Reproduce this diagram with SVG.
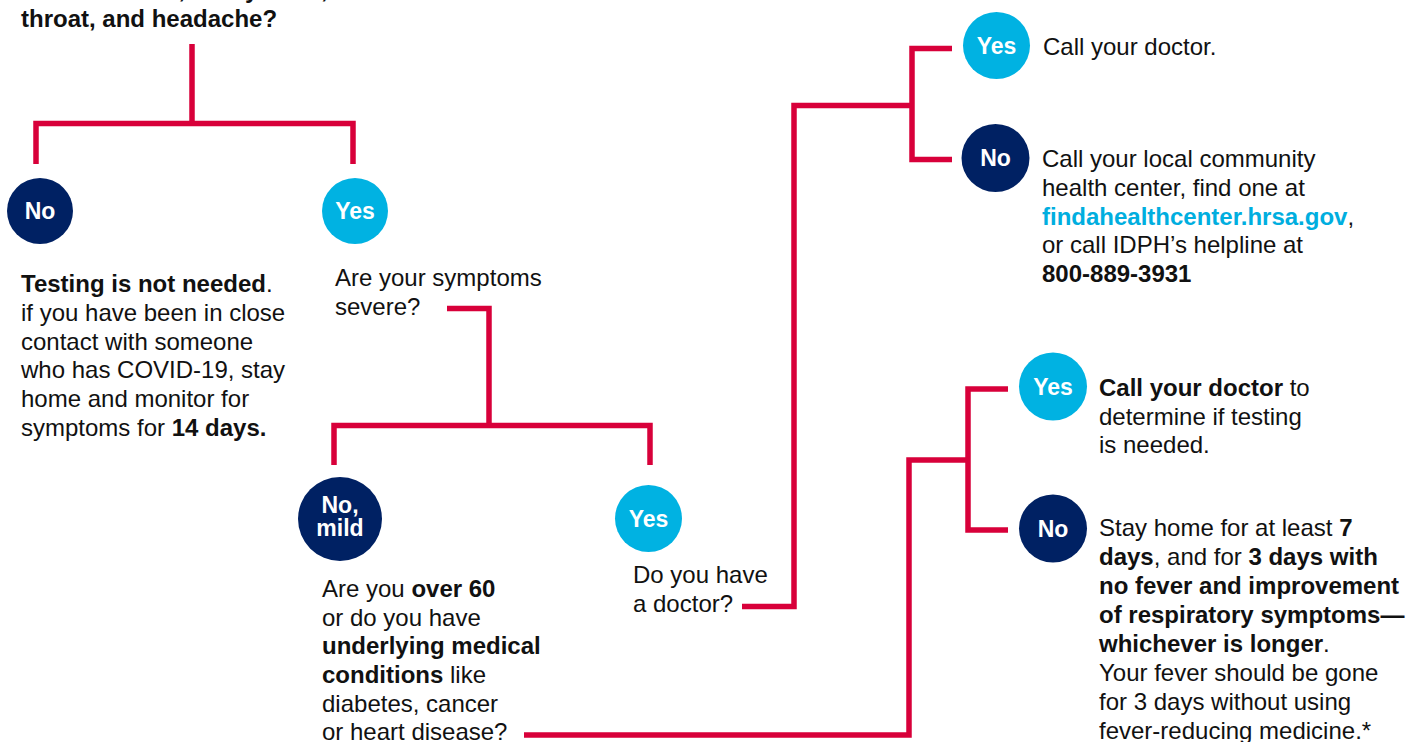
<svg xmlns="http://www.w3.org/2000/svg" width="1416" height="742" viewBox="0 0 1416 742">
<style>
text{font-family:"Liberation Sans",Arial,Helvetica,sans-serif;font-size:24px;fill:#111}
.b{font-weight:bold}
.lbl{font-size:23px;font-weight:bold;fill:#fff;text-anchor:middle}
.navy{fill:#002163}
.cyan{fill:#00B2E2}
.link{fill:#00AEDF;font-weight:bold}
.conn{fill:none;stroke:#D8003A;stroke-width:5.5;stroke-linejoin:miter;stroke-linecap:butt}
</style>
<rect width="1416" height="742" fill="#fff"/>
<g id="connectors">
<path class="conn" d="M36,164 V123.5 H353 V164 M192,44 V123.5"/>
<path class="conn" d="M447,308.5 H489 V425.5 M334,465 V425.5 H650 V465"/>
<path class="conn" d="M742,606.5 H794 V105.5 H912 M952,48.5 H912 V159.5 H952"/>
<path class="conn" d="M524,735 H909 V460 H968 M1008,389 H968 V530 H1008"/>
</g>
<g id="q-symptoms">
<text class="b" x="21" y="-2">muscle aches, runny nose, sore</text>
<text class="b" x="21" y="27">throat, and headache?</text>
</g>
<g id="no-1">
<circle class="navy" cx="40" cy="211" r="33"/>
<text class="lbl" x="40" y="219">No</text>
<text x="21" y="292"><tspan class="b">Testing is not needed</tspan>.</text>
<text x="21" y="321">if you have been in close</text>
<text x="21" y="350">contact with someone</text>
<text x="21" y="378">who has COVID-19, stay</text>
<text x="21" y="407">home and monitor for</text>
<text x="21" y="436">symptoms for <tspan class="b">14 days.</tspan></text>
</g>
<g id="yes-1">
<circle class="cyan" cx="355" cy="211" r="33"/>
<text class="lbl" x="355" y="219">Yes</text>
<text x="335" y="286">Are your symptoms</text>
<text x="335" y="315">severe?</text>
</g>
<g id="no-mild">
<circle class="navy" cx="340" cy="519" r="42"/>
<text class="lbl" x="340" y="513">No,</text>
<text class="lbl" x="340" y="536">mild</text>
<text x="322" y="597">Are you <tspan class="b">over 60</tspan></text>
<text x="322" y="626">or do you have</text>
<text x="322" y="654" class="b">underlying medical</text>
<text x="322" y="683"><tspan class="b">conditions</tspan> like</text>
<text x="322" y="712">diabetes, cancer</text>
<text x="322" y="740">or heart disease?</text>
</g>
<g id="yes-severe">
<circle class="cyan" cx="648.5" cy="518.5" r="33.5"/>
<text class="lbl" x="648.5" y="526.5">Yes</text>
<text x="633" y="583">Do you have</text>
<text x="633" y="612">a doctor?</text>
</g>
<g id="yes-doctor">
<circle class="cyan" cx="996.5" cy="45.5" r="33.5"/>
<text class="lbl" x="996.5" y="53.5">Yes</text>
<text x="1043" y="55">Call your doctor.</text>
</g>
<g id="no-doctor">
<circle class="navy" cx="995.5" cy="158" r="34"/>
<text class="lbl" x="995.5" y="166">No</text>
<text x="1042" y="167">Call your local community</text>
<text x="1042" y="196">health center, find one at</text>
<text x="1042" y="225"><tspan class="link">findahealthcenter.hrsa.gov</tspan>,</text>
<text x="1042" y="253">or call IDPH’s helpline at</text>
<text x="1042" y="282" class="b">800-889-3931</text>
</g>
<g id="yes-risk">
<circle class="cyan" cx="1053" cy="386.5" r="34"/>
<text class="lbl" x="1053" y="394.5">Yes</text>
<text x="1099" y="396"><tspan class="b">Call your doctor</tspan> to</text>
<text x="1099" y="425">determine if testing</text>
<text x="1099" y="453">is needed.</text>
</g>
<g id="no-risk">
<circle class="navy" cx="1053" cy="528.5" r="34"/>
<text class="lbl" x="1053" y="536.5">No</text>
<text x="1099" y="536">Stay home for at least <tspan class="b">7</tspan></text>
<text x="1099" y="565"><tspan class="b">days</tspan>, and for <tspan class="b">3 days with</tspan></text>
<text x="1099" y="594" class="b">no fever and improvement</text>
<text x="1099" y="623" class="b">of respiratory symptoms—</text>
<text x="1099" y="652"><tspan class="b">whichever is longer</tspan>.</text>
<text x="1099" y="681">Your fever should be gone</text>
<text x="1099" y="710">for 3 days without using</text>
<text x="1099" y="739">fever-reducing medicine.*</text>
</g>
</svg>
